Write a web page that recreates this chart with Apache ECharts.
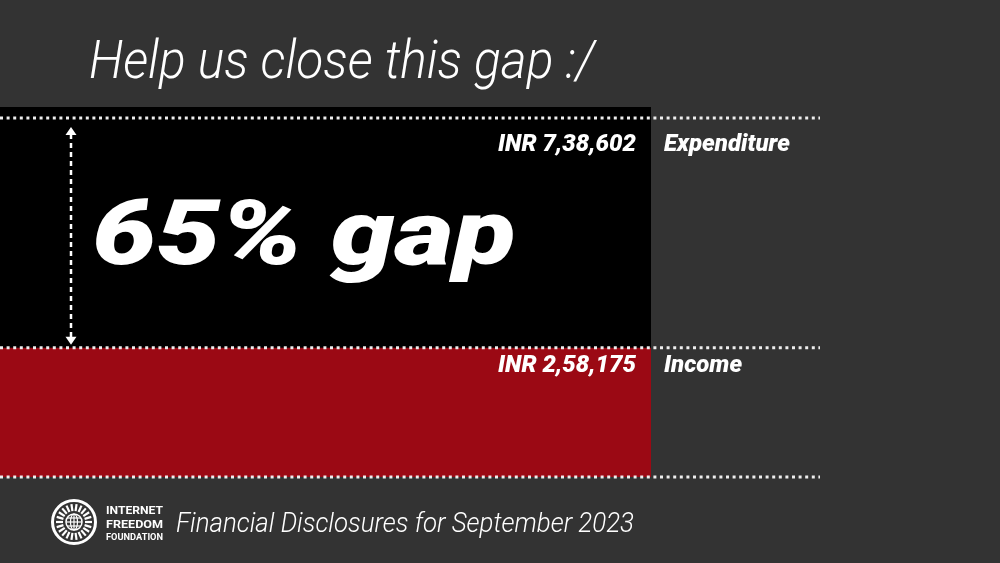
<!DOCTYPE html>
<html><head><meta charset="utf-8">
<script src="https://cdn.jsdelivr.net/npm/echarts@6/dist/echarts.min.js"></script>
<style>html,body{margin:0;padding:0;background:#333333}#c{width:1000px;height:563px}</style>
</head><body><div id="c"></div>
<script>
// ---- data ----
const categories = ['September 2023'];
const seriesNames = ['Expenditure', 'Income'];
const expenditure = [738602];
const income = [258175];
const titleText = 'Help us close this gap :/';
const footerText = 'Financial Disclosures for September 2023';
const orgLines = ['INTERNET', 'FREEDOM', 'FOUNDATION'];

// Indian digit grouping: 738602 -> 7,38,602
function inr(n) {
  const s = String(Math.round(n));
  if (s.length <= 3) return s;
  const last3 = s.slice(-3);
  const rest = s.slice(0, -3).replace(/\B(?=(\d{2})+(?!\d))/g, ',');
  return rest + ',' + last3;
}
const gapPct = Math.round((expenditure[0] - income[0]) / expenditure[0] * 100);

const FONT = 'Roboto';
const mctx = document.createElement('canvas').getContext('2d');
function fitScale(font, text, target) {
  mctx.font = font;
  return target / mctx.measureText(text).width;
}

function barLabel(dy) {
  const base = { color: '#ffffff', fontFamily: FONT, fontSize: 24, fontWeight: 900, fontStyle: 'italic' };
  return {
    show: true,
    position: ['100%', dy],
    offset: [-159, 0],
    align: 'left',
    verticalAlign: 'middle',
    formatter: p => '{v|INR ' + inr(p.value) + '}{n|' + p.seriesName + '}',
    rich: {
      v: Object.assign({ width: 150, align: 'right' }, base),
      n: Object.assign({ padding: [0, 0, 0, 22] }, base)
    }
  };
}

const chart = echarts.init(document.getElementById('c'), null, { renderer: 'canvas' });
chart.setOption({
  backgroundColor: '#333333',
  animation: false,
  grid: { left: 0, width: 651, top: 107, bottom: 86 },
  xAxis: { type: 'category', data: categories, show: false },
  yAxis: { type: 'value', min: 0, max: expenditure[0], show: false },
  series: [
    { name: seriesNames[0], type: 'bar', data: expenditure, barWidth: '100%', barGap: '-100%',
      itemStyle: { color: '#000000' }, label: barLabel(38) },
    { name: seriesNames[1], type: 'bar', data: income, barWidth: '100%', barGap: '-100%',
      itemStyle: { color: '#9b0914' }, label: barLabel(18) }
  ]
});

// ---- decorations positioned from the axis scale ----
const yTop = chart.convertToPixel({ yAxisIndex: 0 }, expenditure[0]);
const yInc = chart.convertToPixel({ yAxisIndex: 0 }, income[0]);
const yZero = chart.convertToPixel({ yAxisIndex: 0 }, 0);
const yTopLine = yTop + 11;

function dotted(y) {
  return { type: 'line', silent: true, z: 100, shape: { x1: 0, y1: y, x2: 820, y2: y },
    style: { stroke: '#eeeeee', lineWidth: 3, lineDash: [3, 3.6], lineCap: 'butt' } };
}

const ax = 71;
const arrow = [
  { type: 'line', z: 100, shape: { x1: ax, y1: yTopLine + 16, x2: ax, y2: yInc - 10 },
    style: { stroke: '#ffffff', lineWidth: 2.5, lineDash: [5, 4] } },
  { type: 'polygon', z: 100, shape: { points: [[ax, yTopLine + 9], [ax - 5.5, yTopLine + 17], [ax + 5.5, yTopLine + 17]] },
    style: { fill: '#ffffff' } },
  { type: 'polygon', z: 100, shape: { points: [[ax, yInc - 3], [ax - 5.5, yInc - 11], [ax + 5.5, yInc - 11]] },
    style: { fill: '#ffffff' } }
];

const bigFont = 'italic 900 90px ' + FONT;
const bigText = gapPct + '% gap';
const titleFont = 'italic 300 54px ' + FONT;
const footFont = 'italic 300 28px ' + FONT;

// logo
const lx = 74, ly = 522;
const logo = [
  { type: 'circle', z: 100, shape: { cx: lx, cy: ly, r: 21.5 }, style: { fill: 'none', stroke: '#ffffff', lineWidth: 3 } }
];
for (let i = 0; i < 22; i++) {
  const a = i / 22 * Math.PI * 2;
  logo.push({ type: 'line', z: 100, shape: { x1: lx + Math.cos(a) * 11, y1: ly + Math.sin(a) * 11,
    x2: lx + Math.cos(a) * 18, y2: ly + Math.sin(a) * 18 },
    style: { stroke: '#ffffff', lineWidth: 2.2 } });
}
logo.push({ type: 'circle', z: 100, shape: { cx: lx, cy: ly, r: 8 }, style: { fill: 'none', stroke: '#ffffff', lineWidth: 1.5 } });
logo.push({ type: 'ellipse', z: 100, shape: { cx: lx, cy: ly, rx: 3.5, ry: 8 }, style: { fill: 'none', stroke: '#ffffff', lineWidth: 1.2 } });
logo.push({ type: 'line', z: 100, shape: { x1: lx, y1: ly - 8, x2: lx, y2: ly + 8 }, style: { stroke: '#ffffff', lineWidth: 1.2 } });
[-4, 0, 4].forEach(d => logo.push({ type: 'line', z: 100, shape: { x1: lx - Math.sqrt(64 - d * d), y1: ly + d, x2: lx + Math.sqrt(64 - d * d), y2: ly + d },
  style: { stroke: '#ffffff', lineWidth: 1.2 } }));
const orgY = [511, 525, 538];
const orgSize = [11.5, 11.5, 9.5];
orgLines.forEach((t, i) => {
  const f = 'bold ' + orgSize[i] + 'px ' + FONT;
  logo.push({ type: 'text', z: 100, x: 106, y: orgY[i], scaleX: fitScale(f, t, 57),
    style: { text: t, font: f, fill: '#ffffff', verticalAlign: 'middle', align: 'left' } });
});

chart.setOption({
  graphic: [
    dotted(yTopLine), dotted(yInc), dotted(yZero),
    ...arrow,
    { type: 'text', z: 100, x: 92, y: 241, scaleX: fitScale(bigFont, bigText, 424),
      style: { text: bigText, font: bigFont, fill: '#ffffff', verticalAlign: 'middle', align: 'left' } },
    { type: 'text', z: 100, x: 89, y: 64, scaleX: fitScale(titleFont, titleText, 506),
      style: { text: titleText, font: titleFont, fill: '#ffffff', verticalAlign: 'middle', align: 'left' } },
    { type: 'text', z: 100, x: 176, y: 525, scaleX: fitScale(footFont, footerText, 458),
      style: { text: footerText, font: footFont, fill: '#ffffff', verticalAlign: 'middle', align: 'left' } },
    ...logo
  ]
});
</script>
</body></html>
